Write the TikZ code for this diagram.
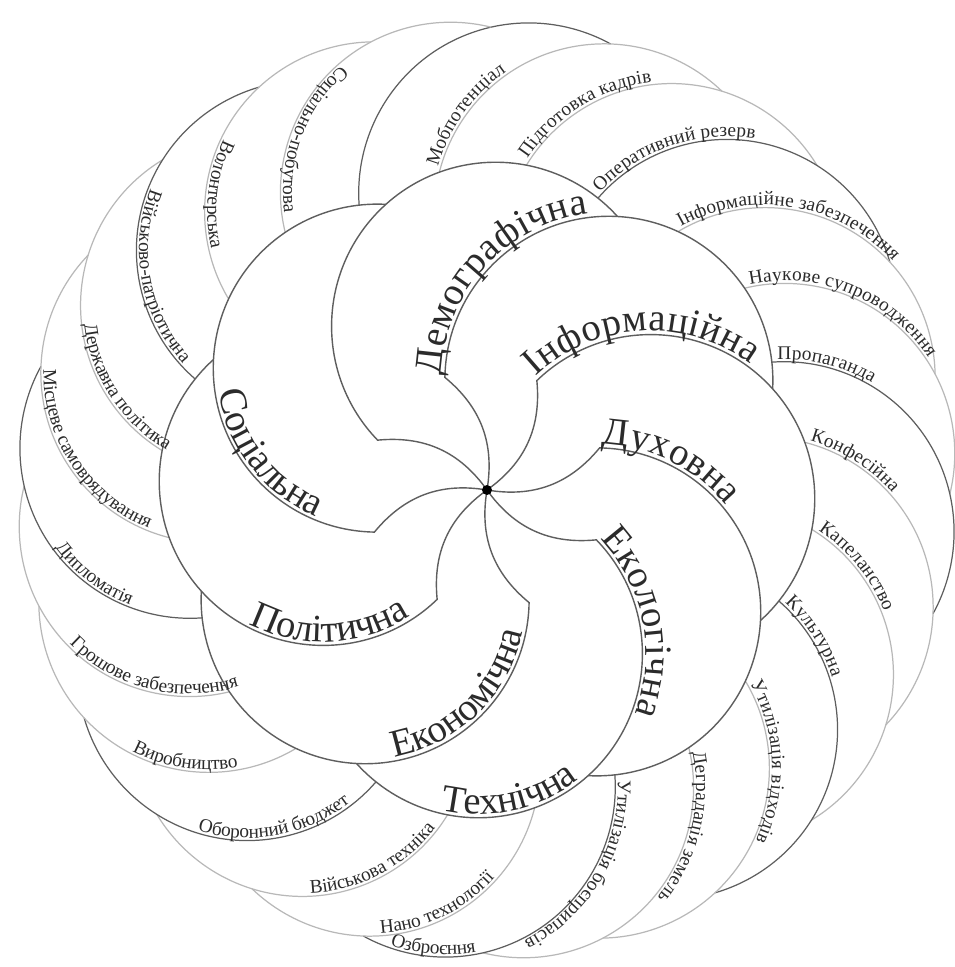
\documentclass[tikz,border=0pt]{standalone}
\usepackage{fontspec}
\setmainfont{Liberation Serif}
\usetikzlibrary{decorations.text}
\definecolor{ringdark}{HTML}{5E5E5E}
\definecolor{ringlight}{HTML}{B8B8B8}
\definecolor{ink}{HTML}{2B2B2B}
\newcommand{\innerfont}{\fontsize{22}{26}\selectfont}
\newcommand{\outerfont}{\fontsize{11}{13}\selectfont}

\begin{document}
\begin{tikzpicture}[x=0.02cm, y=0.02cm,
  petal/.style={draw=ringdark, line width=0.8pt},
  outerdark/.style={draw=ringdark, line width=0.7pt},
  outerlight/.style={draw=ringlight, line width=0.7pt},
  inlabel/.style={decorate, decoration={text along path, text={|\innerfont|#1}, raise=2pt, text align={left indent=1pt}, text color=ink}},
  outlabel/.style={decorate, decoration={text along path, text={|\outerfont|#1}, raise=1.5pt, text align={left indent=3pt}, text color=ink}},
]
\useasboundingbox (-487,-477) rectangle (467,490);
\coordinate (o) at (0,0);
% outer ring: 24 circles, r=170, centres on radius 300
\foreach \b in {82,37,...,-233} {
  \draw[outerdark] (\b:300) ++(\b+115:170) arc[start angle=\b+115, end angle=\b-20.8, radius=170];
  \draw[outerlight] (\b-15:300) ++(\b+100:170) arc[start angle=\b+100, end angle=\b-35.8, radius=170];
  \draw[outerlight] (\b-30:300) ++(\b+85:170) arc[start angle=\b+85, end angle=\b-50.8, radius=170];
}
% white core hides what is under the inner ring
\fill[white] (109.5:303.04) \foreach \a in {87,42,-3,-48,-93,-138,177,132} {arc[start angle=\a+45, end angle=\a-45, radius=164]} -- cycle;
% inner ring: 8 petals with tails to the hub
\foreach \a in {87,42,-3,-48,-93,-138,177,132}
  \draw[petal] (o) to[bend right=30] (\a+68.5:120.21) arc[start angle=\a+137, end angle=\a-45, radius=164];

% inner labels
\path[inlabel=Демографічна] (42:164) ++(179:164) arc[start angle=179, end angle=70, radius=164];
\path[inlabel=Інформаційна] (-3:164) ++(134:164) arc[start angle=134, end angle=25, radius=164];
\path[inlabel=Духовна] (-48:164) ++(89:164) arc[start angle=89, end angle=-20, radius=164];
\path[inlabel=Екологічна] (-93:164) ++(44:164) arc[start angle=44, end angle=-65, radius=164];
\path[inlabel=Технічна] (-93:164) ++(-104:164) arc[start angle=-104, end angle=-5, radius=164];
\path[inlabel=Економічна] (-138:164) ++(-80:164) arc[start angle=-80, end angle=20, radius=164];
\path[inlabel=Політична] (177:164) ++(-118:164) arc[start angle=-118, end angle=-18, radius=164];
\path[inlabel=Соціальна] (132:164) ++(188:164) arc[start angle=188, end angle=288, radius=164];

% outer labels, upper right
\path[outlabel=Мобпотенціал] (67:300) ++(166:170) arc[start angle=166, end angle=46, radius=170];
\path[outlabel=Підготовка кадрів] (52:300) ++(148.5:170) arc[start angle=148.5, end angle=28.5, radius=170];
\path[outlabel=Оперативний резерв] (37:300) ++(139:170) arc[start angle=139, end angle=19, radius=170];
\path[outlabel=Інформаційне забезпечення] (22:300) ++(121:170) arc[start angle=121, end angle=1, radius=170];
\path[outlabel=Наукове супроводження] (7:300) ++(103.5:170) arc[start angle=103.5, end angle=-16.5, radius=170];
\path[outlabel=Пропаганда] (-8:300) ++(94:170) arc[start angle=94, end angle=-26, radius=170];
\path[outlabel=Конфесійна] (-23:300) ++(76:170) arc[start angle=76, end angle=-44, radius=170];
\path[outlabel=Капеланство] (-38:300) ++(58.5:170) arc[start angle=58.5, end angle=-61.5, radius=170];
\path[outlabel=Культурна] (-53:300) ++(49:170) arc[start angle=49, end angle=-71, radius=170];
\path[outlabel=Утилізація відходів] (-68:300) ++(31:170) arc[start angle=31, end angle=-89, radius=170];
\path[outlabel=Деградація земель] (-83:300) ++(13.5:170) arc[start angle=13.5, end angle=-106.5, radius=170];
\path[outlabel=Утилізація боєприпасів] (-98:300) ++(4:170) arc[start angle=4, end angle=-116, radius=170];
% outer labels, lower left
\path[outlabel=Озброєння] (-98:300) ++(-111:170) arc[start angle=-111, end angle=9, radius=170];
\path[outlabel=Нано технології] (-113:300) ++(-88:170) arc[start angle=-88, end angle=32, radius=170];
\path[outlabel=Військова техніка] (-128:300) ++(-89:170) arc[start angle=-89, end angle=31, radius=170];
\path[outlabel=Оборонний бюджет] (-143:300) ++(-109:170) arc[start angle=-109, end angle=11, radius=170];
\path[outlabel=Виробництво] (-158:300) ++(-119:170) arc[start angle=-119, end angle=1, radius=170];
\path[outlabel=Грошове забезпечення] (-173:300) ++(-137.5:170) arc[start angle=-137.5, end angle=-17.5, radius=170];
\path[outlabel=Дипломатія] (172:300) ++(214.7:170) arc[start angle=214.7, end angle=334.7, radius=170];
\path[outlabel=Місцеве самоврядування] (157:300) ++(177:170) arc[start angle=177, end angle=297, radius=170];
\path[outlabel=Державна політика] (142:300) ++(184.8:170) arc[start angle=184.8, end angle=304.8, radius=170];
\path[outlabel=Військово-патріотична] (127:300) ++(156.7:170) arc[start angle=156.7, end angle=276.7, radius=170];
\path[outlabel=Волонтерська] (112:300) ++(152.6:170) arc[start angle=152.6, end angle=272.6, radius=170];
\path[outlabel=Соціально-побутова] (97:300) ++(129:170) arc[start angle=129, end angle=249, radius=170];

\node[circle, fill=black, inner sep=0pt, minimum size=0.2cm] (hub) at (o) {};
\end{tikzpicture}
\end{document}
